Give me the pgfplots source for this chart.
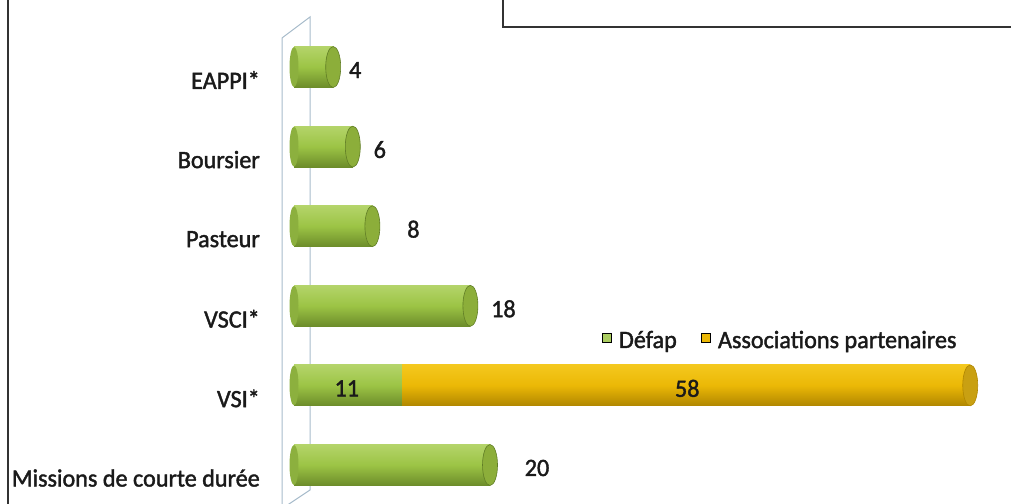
\documentclass[border=0pt]{standalone}
\usepackage{fontspec}
\setmainfont{Carlito}[FakeStretch=0.97, FakeBold=1.6]
\usepackage{pgfplots}
\pgfplotsset{compat=1.18}

\definecolor{gtop}{HTML}{B4D46A}
\definecolor{gmid}{HTML}{9CC445}
\definecolor{gbot}{HTML}{6C8C2A}
\definecolor{gcap}{HTML}{8CAE3A}
\definecolor{ytop}{HTML}{F4C81E}
\definecolor{ymid}{HTML}{EBB806}
\definecolor{ybot}{HTML}{B08600}
\definecolor{ycap}{HTML}{C9A012}
\definecolor{wall}{HTML}{A8BCCB}
\definecolor{txt}{HTML}{1A1A1A}

\pgfdeclareplotmark{cyl}{\pgfpathellipse{\pgfpointorigin}{\pgfqpoint{7.5bp}{0pt}}{\pgfqpoint{0pt}{20.5bp}}\pgfusepathqfillstroke}
\pgfdeclareplotmark{back}{\pgfpathellipse{\pgfpointorigin}{\pgfqpoint{4.5bp}{0pt}}{\pgfqpoint{0pt}{20bp}}\pgfusepathqfill}

\pgfplotsset{
  gbar/.style={forget plot, xbar, bar shift=0pt, bar width=41bp, draw=none,
    top color=gtop, bottom color=gbot, middle color=gmid,
    nodes near coords,
    every node near coord/.append style={anchor=center, xshift=#1, yshift=-3bp, text=txt, fill=none, draw=none}},
  ybar2/.style={forget plot, xbar, bar shift=0pt, bar width=41bp, draw=none,
    top color=ytop, bottom color=ybot, middle color=ymid,
    nodes near coords, point meta=explicit,
    every node near coord/.append style={anchor=center, xshift=#1, yshift=-3bp, text=txt, fill=none, draw=none}},
}

\begin{document}
\begin{tikzpicture}[x=1bp,y=1bp]
\draw[line width=2bp, black!80] (8,0) -- (8,504);
\draw[line width=2bp, black!80] (503,510) -- (503,477) -- (1015,477);
\draw[wall, line width=1bp] (282,0) -- (282,466) -- (310,487) -- (310,14) -- (286,-2);
\begin{axis}[
  at={(294bp,0bp)}, anchor=south west, scale only axis,
  width=717bp, height=504bp,
  xmin=0, xmax=73.16, ymin=-0.49, ymax=5.842,
  clip=false,
  axis line style={draw=none}, major tick length=0pt,
  xtick=\empty, ytick={0,...,5},
  yticklabels={Missions de courte durée, VSI*, VSCI*, Pasteur, Boursier, EAPPI*},
  yticklabel style={anchor=east, inner sep=0pt, xshift=-34bp, yshift=-13bp, text=txt},
  font=\fontsize{25}{30}\selectfont,
  /pgf/number format/assume math mode=true,
  legend image code/.code={\fill[#1] (0bp,-2bp) rectangle (9bp,7bp); \path[draw=none, fill=none] (9bp,0bp) -- (15bp,0bp);},
  legend style={at={(0.927,0.325)}, anchor=east, draw=none, fill=none, inner sep=0pt,
    legend columns=2, font=\fontsize{25}{30}\selectfont, text=txt,
    /tikz/every even column/.append style={column sep=22bp}},
]
\addlegendimage{fill=gmid!85!white}
\addlegendentry{Défap}
\addlegendimage{fill=ymid}
\addlegendentry{Associations partenaires}

% left (back) ends of the cylinders
\addplot[forget plot, only marks, mark=back, mark options={fill=gmid!90!black, draw=none}]
  coordinates {(0,5) (0,4) (0,3) (0,2) (0,1) (0,0)};

% Associations partenaires: VSI* = 11 (Défap) + 58
\addplot[ybar2=-283bp] coordinates {(69,1) [58]};

% Défap
\addplot[gbar=22bp] coordinates {(4,5)};
\addplot[gbar=27bp] coordinates {(6,4)};
\addplot[gbar=41bp] coordinates {(8,3)};
\addplot[gbar=33bp] coordinates {(18,2)};
\addplot[gbar=-55bp] coordinates {(11,1)};
\addplot[gbar=47bp] coordinates {(20,0)};

% front end caps
\addplot[forget plot, only marks, mark=cyl, mark options={fill=gcap, draw=gbot!90!black, line width=0.6bp}]
  coordinates {(4,5) (6,4) (8,3) (18,2) (20,0)};
\addplot[forget plot, only marks, mark=cyl, mark options={fill=ycap, draw=ybot, line width=0.6bp}]
  coordinates {(69,1)};
\end{axis}
\pgfresetboundingbox
\path[use as bounding box] (0,0) rectangle (1011,504);
\end{tikzpicture}
\end{document}
